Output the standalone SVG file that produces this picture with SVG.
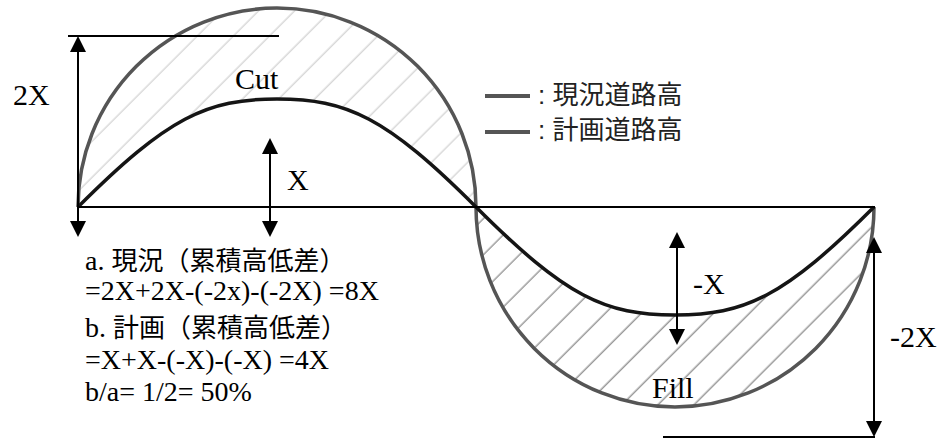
<svg xmlns="http://www.w3.org/2000/svg" width="942" height="438" viewBox="0 0 942 438">
  <style>
    .lbl { font-family: 'Liberation Serif', serif; font-size: 30px; fill: #000; }
    .blk { font-family: 'Liberation Serif', serif; font-size: 28px; fill: #000; }
    .cjk { font-family: 'Noto Sans CJK JP', 'Noto Sans CJK SC', sans-serif; font-size: 26px; }
    .leg { font-family: 'Noto Sans CJK JP', 'Noto Sans CJK SC', sans-serif; font-size: 26px; fill: #222; }
    .outer { fill: none; stroke: #555; stroke-width: 3.5; }
    .inner { fill: none; stroke: #151515; stroke-width: 3.5; }
    .thin { stroke: #000; stroke-width: 2; fill: none; }
    .arrow { stroke: #000; stroke-width: 2; fill: none; marker-start: url(#ah); marker-end: url(#ah); }
  </style>
  <defs>
    <marker id="ah" viewBox="0 0 16 16" refX="6" refY="8" markerWidth="16" markerHeight="16" markerUnits="userSpaceOnUse" orient="auto-start-reverse">
      <path d="M0,0 L16,8 L0,16 Z" fill="#000"/>
    </marker>
    <pattern id="hatchU" patternUnits="userSpaceOnUse" width="25.5" height="25.5" patternTransform="rotate(45)">
      <line x1="12" y1="-1" x2="12" y2="26.5" stroke="#d8d8d8" stroke-width="1.5"/>
    </pattern>
    <pattern id="hatchL" patternUnits="userSpaceOnUse" width="25.5" height="25.5" patternTransform="rotate(45)">
      <line x1="12" y1="-1" x2="12" y2="26.5" stroke="#9a9a9a" stroke-width="1.5"/>
    </pattern>
  </defs>
  <rect width="942" height="438" fill="#fff"/>

  <g id="cut-area">
    <path d="M78,207 A199,199 0 0 1 476,207 C386,117 347,99 277,99 C207,99 168,117 78,207 Z" fill="url(#hatchU)"/>
  </g>
  <g id="fill-area">
    <path d="M476,207 A199,200 0 0 0 874,207 C784,297 745,315 675,315 C605,315 566,297 476,207 Z" fill="url(#hatchL)"/>
  </g>

  <g id="plan-road">
    <path class="outer" d="M78,207 A199,199 0 0 1 476,207"/>
    <path class="outer" d="M476,207 A199,200 0 0 0 874,207"/>
  </g>
  <g id="current-road">
    <path class="inner" d="M78,207 C168,117 207,99 277,99 C347,99 386,117 476,207 C566,297 605,315 675,315 C745,315 784,297 874,207"/>
  </g>

  <g id="connectors">
    <line class="thin" x1="78" y1="207" x2="875" y2="207"/>
    <line class="thin" x1="68" y1="36" x2="279" y2="36"/>
    <line class="thin" x1="663" y1="437" x2="875" y2="437"/>
    <line class="arrow" x1="78" y1="46" x2="78" y2="227"/>
    <line class="arrow" x1="270" y1="148" x2="270" y2="227"/>
    <line class="arrow" x1="677" y1="242" x2="677" y2="335"/>
    <line class="arrow" x1="874" y1="247" x2="874" y2="427"/>
  </g>

  <g id="labels">
    <text class="lbl" font-family="Liberation Serif, serif" x="13" y="105">2X</text>
    <text class="lbl" font-family="Liberation Serif, serif" x="235" y="89">Cut</text>
    <text class="lbl" font-family="Liberation Serif, serif" x="287" y="190">X</text>
    <text class="lbl" font-family="Liberation Serif, serif" x="693" y="294">-X</text>
    <text class="lbl" font-family="Liberation Serif, serif" x="890" y="347">-2X</text>
    <text class="lbl" font-family="Liberation Serif, serif" x="652" y="398">Fill</text>
  </g>

  <g id="legend">
    <line x1="485" y1="96" x2="530" y2="96" stroke="#555" stroke-width="4"/>
    <line x1="485" y1="132" x2="530" y2="132" stroke="#555" stroke-width="4"/>
    <text class="leg" x="538" y="104"><tspan font-family="Liberation Sans, sans-serif">: </tspan>現況道路高</text>
    <text class="leg" x="538" y="139"><tspan font-family="Liberation Sans, sans-serif">: </tspan>計画道路高</text>
  </g>

  <g id="calc">
    <text class="blk" x="85" y="270">a. <tspan class="cjk">現況（累積高低差）</tspan></text>
    <text class="blk" x="85" y="300">=2X+2X-(-2x)-(-2X) =8X</text>
    <text class="blk" x="85" y="337">b. <tspan class="cjk">計画（累積高低差）</tspan></text>
    <text class="blk" x="85" y="369">=X+X-(-X)-(-X) =4X</text>
    <text class="blk" x="85" y="401">b/a= 1/2= 50%</text>
  </g>
</svg>
